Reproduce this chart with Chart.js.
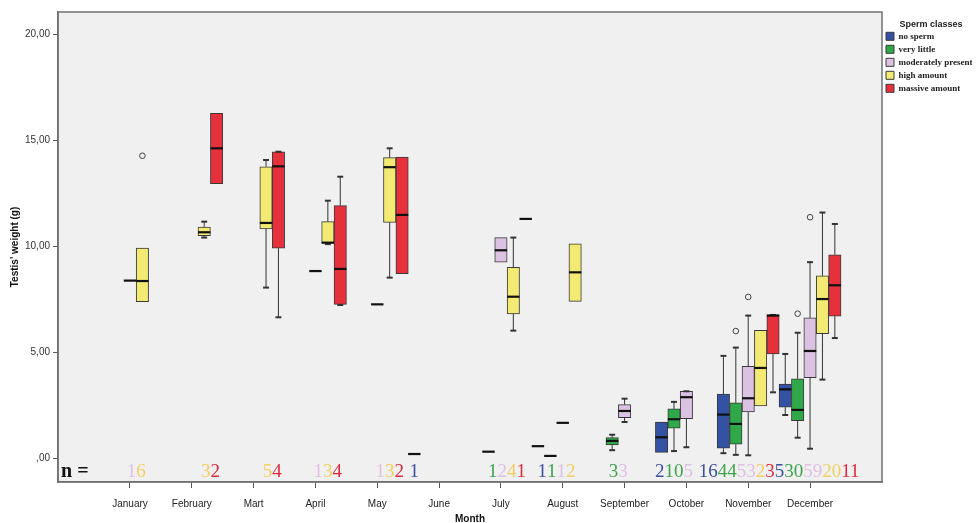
<!DOCTYPE html>
<html>
<head>
<meta charset="utf-8">
<title>Testis weight by month and sperm class</title>
<script src="https://cdn.jsdelivr.net/npm/chart.js@4.4.1/dist/chart.umd.min.js"></script>
<style>
  html, body { margin: 0; padding: 0; background: #fff; }
  #wrap { width: 980px; height: 523px; }
</style>
</head>
<body>
<div id="wrap"><canvas id="boxChart" width="980" height="523"></canvas></div>
<script>
// categories
const months = ['January', 'February', 'Mart', 'April', 'May', 'June', 'July', 'August', 'September', 'October', 'November', 'December'];
const classes = ['no sperm', 'very little', 'moderately present', 'high amount', 'massive amount'];
const yTicks = [0, 5, 10, 15, 20];

// one row per sperm class, one column per month (null = nothing there)
const nCount = [
  [null, null, null, null, null, 1, null, 1, null, 2, 16, 5],
  [null, null, null, null, null, null, 1, 1, 3, 10, 44, 30],
  [1, null, null, 1, 1, null, 2, 1, 3, 5, 53, 59],
  [6, 3, 5, 3, 3, null, 4, 2, null, null, 2, 20],
  [null, 2, 4, 4, 2, null, 1, null, null, null, 3, 11]
];
const median = [
  [null, null, null, null, null, 0.2, null, 0.57, null, 0.99, 2.06, 3.25],
  [null, null, null, null, null, null, 0.31, 0.11, 0.82, 1.84, 1.62, 2.28],
  [8.38, null, null, 8.83, 7.26, null, 9.81, 1.67, 2.23, 2.88, 2.83, 5.06],
  [8.36, 10.66, 11.1, 10.17, 13.73, null, 7.62, 8.77, null, null, 4.26, 7.51],
  [null, 14.62, 13.77, 8.93, 11.48, null, 11.29, null, null, null, 6.73, 8.16]
];
const boxLow = [
  [null, null, null, null, null, null, null, null, null, 0.28, 0.47, 2.41],
  [null, null, null, null, null, null, null, null, 0.63, 1.42, 0.66, 1.77],
  [null, null, null, null, null, null, 9.25, null, 1.92, 1.87, 2.18, 3.8],
  [7.39, 10.5, 10.82, 10.14, 11.13, null, 6.81, 7.4, null, null, 2.47, 5.88],
  [null, 12.95, 9.91, 7.26, 8.71, null, null, null, null, null, 4.92, 6.7]
];
const boxHigh = [
  [null, null, null, null, null, null, null, null, null, 1.71, 3.03, 3.5],
  [null, null, null, null, null, null, null, null, 0.97, 2.33, 2.61, 3.75],
  [null, null, null, null, null, null, 10.41, null, 2.53, 3.16, 4.34, 6.62],
  [9.91, 10.91, 13.75, 11.16, 14.18, null, 9.01, 10.12, null, null, 6.04, 8.6],
  [null, 16.27, 14.46, 11.92, 14.21, null, null, null, null, null, 6.76, 9.6]
];
const whiskerLow = [
  [null, null, null, null, null, null, null, null, null, null, 0.24, 2.04],
  [null, null, null, null, null, null, null, null, 0.38, 0.34, 0.16, 0.97],
  [null, null, null, null, null, null, null, null, 1.71, 0.52, 0.14, 0.45],
  [null, 10.41, 8.05, 10.1, 8.52, null, 6.02, null, null, null, null, 3.71],
  [null, null, 6.65, 7.23, null, null, null, null, null, null, 3.11, 5.67]
];
const whiskerHigh = [
  [null, null, null, null, null, null, null, null, null, null, 4.83, 4.92],
  [null, null, null, null, null, null, null, null, 1.11, 2.66, 5.22, 5.92],
  [null, null, null, null, null, null, null, null, 2.81, 3.16, 6.73, 9.25],
  [null, 11.16, 14.07, 12.15, 14.62, null, 10.41, null, null, null, null, 11.59],
  [null, null, 14.46, 13.28, null, null, null, null, null, null, 6.76, 11.05]
];
// [class, month, value]
const outliers = [[3, 0, 14.27], [1, 10, 6.0], [2, 10, 7.61], [1, 11, 6.82], [2, 11, 11.37]];

const fills = ['#3452a4', '#2fa84a', '#dbc1e2', '#f2ea72', '#e6303c'];
const nColours = ['#3c4f9c', '#3ea24c', '#dfc0e3', '#f1cf62', '#dd2a3e'];

// grey plot area with a frame round it
const frame = {
  id: 'frame',
  beforeDraw(chart) {
    const { ctx, chartArea: a } = chart;
    ctx.save();
    ctx.fillStyle = '#f0f0f0';
    ctx.fillRect(a.left, a.top, a.width, a.height);
    ctx.restore();
  },
  afterDraw(chart) {
    const { ctx, chartArea: a } = chart;
    ctx.save();
    ctx.strokeStyle = '#707070';
    ctx.lineWidth = 1.5;
    ctx.strokeRect(a.left, a.top, a.width, a.height);
    ctx.restore();
  }
};

// whiskers, medians and outliers on top of the floating bars
const boxExtras = {
  id: 'boxExtras',
  afterDatasetsDraw(chart) {
    const ctx = chart.ctx;
    const y = chart.scales.y;
    ctx.save();
    classes.forEach((cls, c) => {
      const meta = chart.getDatasetMeta(c);
      months.forEach((m, i) => {
        const bar = meta.data[i];
        if (!bar || nCount[c][i] === null) return;
        const x = bar.x, w = bar.width, cap = w * 0.24;
        ctx.strokeStyle = '#333';
        if (whiskerHigh[c][i] !== null) {
          const from = boxHigh[c][i] !== null ? boxHigh[c][i] : median[c][i];
          ctx.lineWidth = 1;
          ctx.beginPath();
          ctx.moveTo(x, y.getPixelForValue(from));
          ctx.lineTo(x, y.getPixelForValue(whiskerHigh[c][i]));
          ctx.stroke();
          ctx.lineWidth = 2;
          ctx.beginPath();
          ctx.moveTo(x - cap, y.getPixelForValue(whiskerHigh[c][i]));
          ctx.lineTo(x + cap, y.getPixelForValue(whiskerHigh[c][i]));
          ctx.stroke();
        }
        if (whiskerLow[c][i] !== null) {
          const from = boxLow[c][i] !== null ? boxLow[c][i] : median[c][i];
          ctx.lineWidth = 1;
          ctx.beginPath();
          ctx.moveTo(x, y.getPixelForValue(from));
          ctx.lineTo(x, y.getPixelForValue(whiskerLow[c][i]));
          ctx.stroke();
          ctx.lineWidth = 2;
          ctx.beginPath();
          ctx.moveTo(x - cap, y.getPixelForValue(whiskerLow[c][i]));
          ctx.lineTo(x + cap, y.getPixelForValue(whiskerLow[c][i]));
          ctx.stroke();
        }
        if (median[c][i] !== null) {
          ctx.strokeStyle = '#111';
          ctx.lineWidth = 2.2;
          ctx.beginPath();
          ctx.moveTo(x - w / 2, y.getPixelForValue(median[c][i]));
          ctx.lineTo(x + w / 2, y.getPixelForValue(median[c][i]));
          ctx.stroke();
        }
      });
    });
    outliers.forEach(([c, i, v]) => {
      const bar = chart.getDatasetMeta(c).data[i];
      ctx.strokeStyle = '#444';
      ctx.lineWidth = 1;
      ctx.beginPath();
      ctx.arc(bar.x, y.getPixelForValue(v), 2.8, 0, Math.PI * 2);
      ctx.stroke();
    });
    ctx.restore();
  }
};

// "n =" row with the group sizes coloured by class
const nRow = {
  id: 'nRow',
  afterDraw(chart) {
    const { ctx, chartArea: a } = chart;
    const base = a.bottom - 5;
    ctx.save();
    ctx.textBaseline = 'alphabetic';
    ctx.fillStyle = '#111';
    ctx.font = 'bold 20px "Liberation Serif"';
    ctx.fillText('n =', a.left + 3, base);
    ctx.font = '19px "Liberation Serif"';

    const groups = [];
    months.forEach((m, i) => {
      const items = [];
      classes.forEach((cls, c) => {
        if (nCount[c][i] === null) return;
        const text = String(nCount[c][i]);
        items.push({ text, colour: nColours[c], x: chart.getDatasetMeta(c).data[i].x, w: ctx.measureText(text).width });
      });
      if (!items.length) return;
      const g = { items, center: items.reduce((s, it) => s + it.x, 0) / items.length };
      g.width = items.reduce((s, it) => s + it.w, 0);
      g.start = g.center - g.width / 2;
      const last = groups[groups.length - 1];
      if (last && last.start + last.width > g.start) {
        last.items = last.items.concat(items);
        last.center = (last.center + g.center) / 2;
        last.width += g.width;
        last.start = last.center - last.width / 2;
      } else {
        groups.push(g);
      }
    });
    groups.forEach(g => {
      let x = g.start;
      g.items.forEach(it => {
        ctx.fillStyle = it.colour;
        ctx.fillText(it.text, x, base);
        x += it.w;
      });
    });
    ctx.restore();
  }
};

const axisFont = { family: 'Liberation Sans', size: 10 };
const titleFont = { family: 'Liberation Sans', size: 10, weight: 'bold' };

new Chart(document.getElementById('boxChart'), {
  type: 'bar',
  data: {
    datasets: classes.map((label, c) => ({
      label,
      data: months.map((m, i) => ({ x: i, y: boxLow[c][i] === null ? null : [boxLow[c][i], boxHigh[c][i]] })),
      backgroundColor: fills[c],
      borderColor: '#3a3a3a',
      borderWidth: 1,
      borderSkipped: false,
      barThickness: 12.4
    }))
  },
  options: {
    responsive: false,
    devicePixelRatio: 1,
    animation: false,
    layout: { padding: { left: 5, top: 12, right: 0, bottom: -2 } },
    scales: {
      x: {
        type: 'linear',
        min: -1.164,
        max: 12.164,
        bounds: 'data',
        offset: false,
        afterBuildTicks: axis => { axis.ticks = months.map((m, i) => ({ value: i })); },
        ticks: { callback: v => months[v], autoSkip: false, maxRotation: 0, font: axisFont, color: '#222', padding: 10 },
        grid: { offset: false, drawOnChartArea: false, drawTicks: true, tickLength: 6, tickColor: '#555' },
        border: { display: true, color: '#707070', width: 1.5 },
        title: { display: true, text: 'Month', font: titleFont, color: '#111', padding: { top: -7, bottom: 0 } }
      },
      y: {
        min: -1.12,
        max: 21.05,
        bounds: 'data',
        afterBuildTicks: axis => { axis.ticks = yTicks.map(v => ({ value: v })); },
        ticks: { callback: v => (v === 0 ? '' : String(v)) + ',00', font: axisFont, color: '#333', padding: 3 },
        grid: { drawOnChartArea: false, drawTicks: true, tickLength: 5, tickColor: '#555' },
        border: { display: true, color: '#707070', width: 1.5 },
        title: { display: true, text: "Testis' weight (g)", font: titleFont, color: '#111', padding: { top: 4, bottom: 1 } }
      }
    },
    plugins: {
      tooltip: { enabled: false },
      legend: {
        position: 'right',
        align: 'start',
        maxWidth: 98,
        title: { display: true, text: 'Sperm classes', color: '#222', font: { family: 'Liberation Sans', size: 9, weight: 'bold' }, padding: { top: 8, bottom: -3 } },
        labels: { boxWidth: 8, boxHeight: 8, padding: 4, color: '#222', font: { family: 'Liberation Serif', size: 9, weight: 'bold' } }
      }
    }
  },
  plugins: [frame, boxExtras, nRow]
});
</script>
</body>
</html>
